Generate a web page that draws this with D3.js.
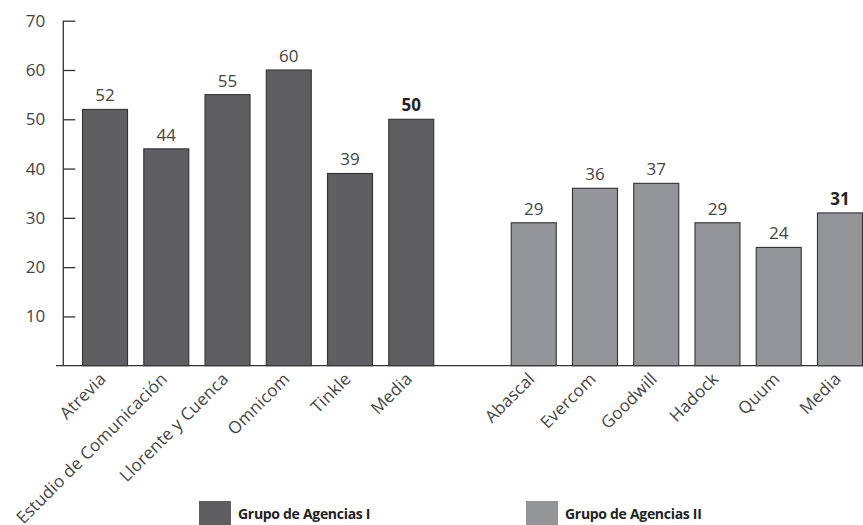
<!DOCTYPE html>
<html>
<head>
<meta charset="utf-8">
<script src="https://cdn.jsdelivr.net/npm/d3@7"></script>
<style>
  body { margin: 0; background: #fff; }
  svg text { font-family: "Open Sans", "Noto Sans", sans-serif; }
</style>
</head>
<body>
<svg id="chart" width="863" height="525"></svg>
<script>
// group I agencies and scores
var groupOneNames = ["Atrevia", "Estudio de Comunicación", "Llorente y Cuenca", "Omnicom", "Tinkle", "Media"];
var groupOneValues = [52, 44, 55, 60, 39, 50];

// group II agencies and scores
var groupTwoNames = ["Abascal", "Evercom", "Goodwill", "Hadock", "Quum", "Media"];
var groupTwoValues = [29, 36, 37, 29, 24, 31];

var yTicks = [10, 20, 30, 40, 50, 60, 70];
var legendLabels = ["Grupo de Agencias I", "Grupo de Agencias II"];
var colors = ["#5f5f61", "#939598"];

// flatten both groups into one row list, with an empty slot between them
var rows = [];
groupOneNames.forEach(function(n, i) {
  rows.push({ key: "a" + i, name: n, value: groupOneValues[i], group: 0, mean: n === "Media" });
});
var slots = rows.map(function(d) { return d.key; }).concat(["gap"]);
groupTwoNames.forEach(function(n, i) {
  rows.push({ key: "b" + i, name: n, value: groupTwoValues[i], group: 1, mean: n === "Media" });
  slots.push("b" + i);
});

var svg = d3.select("#chart");

var x = d3.scaleBand()
    .domain(slots)
    .range([74.4, 870.6])
    .paddingInner(0.265)
    .paddingOuter(0.1325);

var y = d3.scaleLinear()
    .domain([0, 70])
    .range([365.7, 20.7]);

// baseline
svg.append("line")
    .attr("x1", 56).attr("x2", 863)
    .attr("y1", y(0)).attr("y2", y(0))
    .attr("stroke", "#333").attr("stroke-width", 1.3);

// y axis with ticks pointing inward
var yAxis = svg.append("g")
    .attr("transform", "translate(63.3,0)")
    .call(d3.axisLeft(y).tickValues(yTicks).tickSize(-12).tickPadding(18));
yAxis.select(".domain").remove();
yAxis.append("line")
    .attr("y1", y(70)).attr("y2", y(0))
    .attr("stroke", "#333").attr("stroke-width", 1.3);
yAxis.selectAll(".tick line").attr("stroke", "#333").attr("stroke-width", 1.3);
yAxis.selectAll(".tick text")
    .attr("fill", "#444")
    .style("font-size", "17px")
    .style("font-family", "'Open Sans', sans-serif");

// bars
svg.selectAll("rect.bar")
    .data(rows)
  .enter().append("rect")
    .attr("class", "bar")
    .attr("x", function(d) { return x(d.key); })
    .attr("width", x.bandwidth())
    .attr("y", function(d) { return y(d.value); })
    .attr("height", function(d) { return y(0) - y(d.value); })
    .attr("fill", function(d) { return colors[d.group]; })
    .attr("stroke", "#333")
    .attr("stroke-width", 1.1);

// value labels
svg.selectAll("text.value")
    .data(rows)
  .enter().append("text")
    .attr("class", "value")
    .attr("x", function(d) { return x(d.key) + x.bandwidth() / 2; })
    .attr("y", function(d) { return y(d.value) - 8; })
    .attr("text-anchor", "middle")
    .attr("fill", function(d) { return d.mean ? "#222" : "#444"; })
    .attr("font-weight", function(d) { return d.mean ? "bold" : "normal"; })
    .style("font-size", "17px")
    .text(function(d) { return d.value; });

// category labels, rotated
svg.selectAll("text.cat")
    .data(rows)
  .enter().append("text")
    .attr("class", "cat")
    .attr("transform", function(d) {
      return "translate(" + (x(d.key) + x.bandwidth() / 2 + 2) + ",380) rotate(-45)";
    })
    .attr("text-anchor", "end")
    .attr("fill", "#444")
    .style("font-size", "17px")
    .style("letter-spacing", "0.2px")
    .text(function(d) { return d.name; });

// legend
var legendX = [199, 526];
var legend = svg.selectAll("g.legend")
    .data(legendLabels)
  .enter().append("g")
    .attr("class", "legend")
    .attr("transform", function(d, i) { return "translate(" + legendX[i] + ",501)"; });
legend.append("rect")
    .attr("width", 32).attr("height", 24)
    .attr("fill", function(d, i) { return colors[i]; });
legend.append("text")
    .attr("x", 39).attr("y", 18)
    .attr("font-weight", "bold")
    .attr("fill", "#222")
    .style("font-size", "14px")
    .style("letter-spacing", "-0.3px")
    .text(function(d) { return d; });
</script>
</body>
</html>
